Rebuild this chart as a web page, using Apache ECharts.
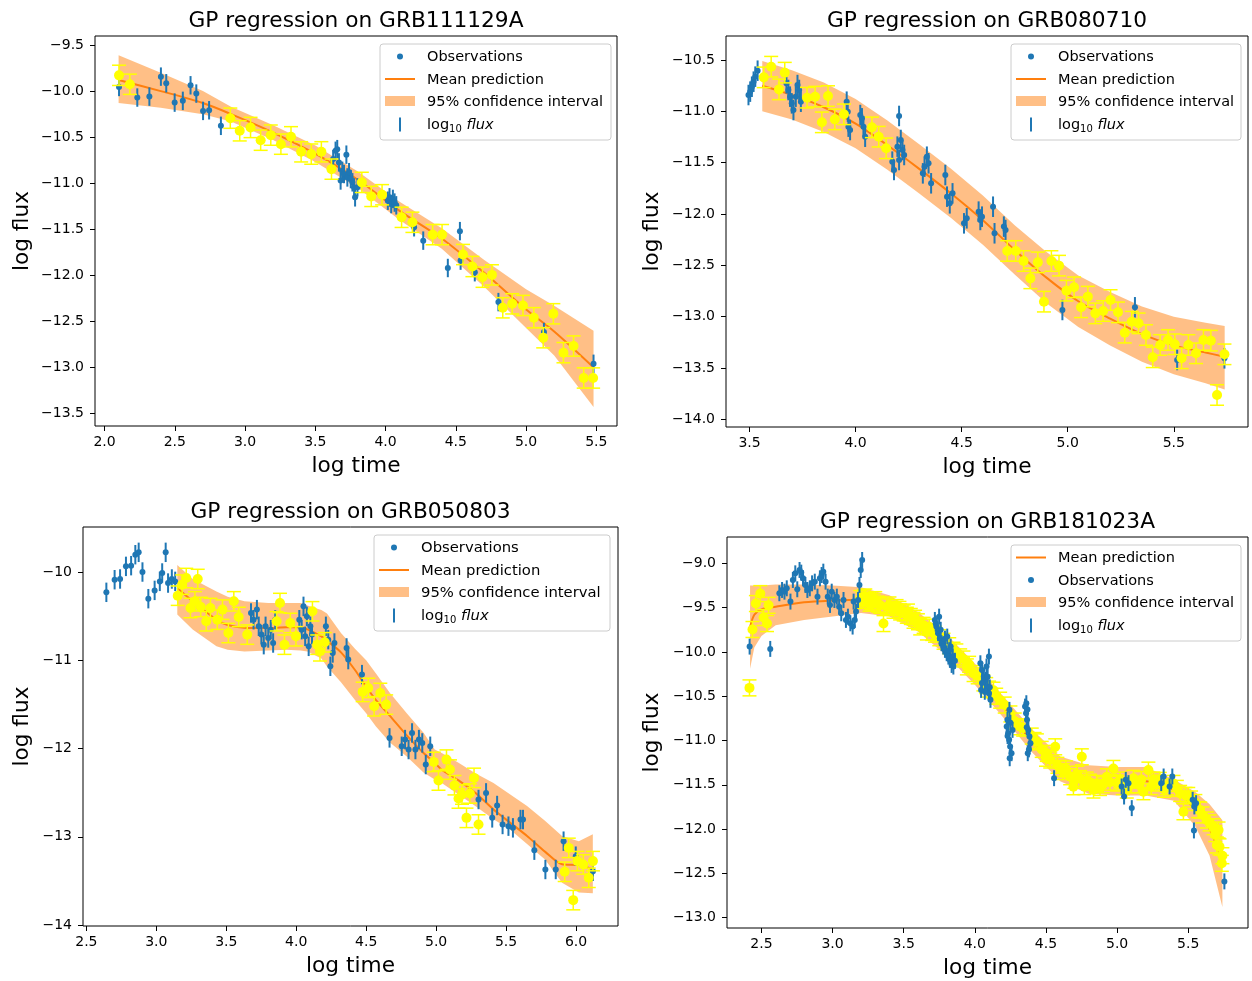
<!DOCTYPE html>
<html>
<head>
<meta charset="utf-8">
<script src="https://cdn.jsdelivr.net/npm/echarts@6/dist/echarts.min.js"></script>
<style>html,body{margin:0;padding:0;background:#fff}#c{width:1252px;height:981px}</style>
</head>
<body>
<div id="c"></div>
<script>
// ---------- Panel 1: GRB111129A ----------
const obs1X = [2.103, 2.233, 2.319, 2.401, 2.439, 2.499, 2.557, 2.612, 2.653, 2.701, 2.744, 2.828, 3.627, 3.644, 3.656, 3.668, 3.68, 3.692, 3.704, 3.721, 3.728, 3.74, 3.752, 3.764, 3.776, 3.783, 3.80, 4.016, 4.028, 4.04, 4.052, 4.064, 4.076, 4.203, 4.268, 4.443, 4.529, 4.534, 4.635, 4.803, 5.127, 5.48];
const obs1Y = [-9.955, -10.07, -10.06, -9.843, -9.915, -10.125, -10.106, -9.937, -10.027, -10.215, -10.208, -10.377, -10.738, -10.648, -10.63, -10.774, -10.97, -10.865, -10.9, -10.69, -10.937, -10.88, -10.955, -10.99, -11.045, -11.153, -11.045, -11.19, -11.153, -11.226, -11.17, -11.21, -11.24, -11.478, -11.623, -11.92, -11.52, -11.84, -11.966, -12.29, -12.615, -12.96];
const rec1X = [2.103, 2.180, 2.895, 2.962, 3.039, 3.111, 3.183, 3.255, 3.327, 3.399, 3.471, 3.543, 3.615, 3.831, 3.898, 3.975, 4.114, 4.191, 4.335, 4.402, 4.551, 4.618, 4.69, 4.757, 4.834, 4.901, 4.978, 5.055, 5.122, 5.194, 5.266, 5.338, 5.41, 5.477];
const rec1Y = [-9.829, -9.926, -10.294, -10.431, -10.395, -10.533, -10.478, -10.576, -10.496, -10.659, -10.684, -10.659, -10.847, -10.991, -11.143, -11.125, -11.37, -11.424, -11.558, -11.558, -11.774, -11.904, -12.02, -11.995, -12.352, -12.309, -12.327, -12.46, -12.677, -12.417, -12.839, -12.767, -13.114, -13.114];
const band1X = [2.10, 2.40, 2.70, 2.90, 3.20, 3.50, 3.80, 4.10, 4.40, 4.70, 5.00, 5.20, 5.48];
const mean1 = [-9.88, -10.00, -10.13, -10.25, -10.45, -10.68, -10.96, -11.30, -11.60, -11.97, -12.37, -12.61, -13.00];
const upper1 = [-9.61, -9.80, -10.00, -10.17, -10.37, -10.59, -10.87, -11.20, -11.49, -11.83, -12.15, -12.33, -12.60];
const lower1 = [-10.13, -10.18, -10.25, -10.33, -10.53, -10.77, -11.05, -11.40, -11.71, -12.12, -12.57, -12.87, -13.43];
const xTicks1 = [2.0, 2.5, 3.0, 3.5, 4.0, 4.5, 5.0, 5.5];
const yTicks1 = [-9.5, -10.0, -10.5, -11.0, -11.5, -12.0, -12.5, -13.0, -13.5];

// ---------- Panel 2: GRB080710 ----------
const obs2X = [3.495, 3.503, 3.511, 3.519, 3.527, 3.538, 3.674, 3.683, 3.691, 3.699, 3.707, 3.718, 3.726, 3.734, 3.742, 3.958, 3.963, 3.966, 3.974, 4.022, 4.03, 4.037, 4.045, 4.205, 4.173, 4.181, 4.197, 4.205, 4.213, 4.221, 4.229, 4.317, 4.325, 4.336, 4.344, 4.356, 4.423, 4.431, 4.444, 4.457, 4.511, 4.524, 4.58, 4.588, 4.596, 4.648, 4.655, 4.699, 4.707, 4.975, 5.317, 5.516, 5.739];
const obs2Y = [-10.841, -10.808, -10.76, -10.711, -10.662, -10.604, -10.727, -10.792, -10.857, -10.922, -10.987, -10.857, -10.744, -10.792, -10.906, -10.906, -11.003, -11.149, -11.182, -11.036, -11.068, -11.149, -11.247, -11.045, -11.49, -11.571, -11.344, -11.474, -11.279, -11.377, -11.425, -11.604, -11.539, -11.442, -11.506, -11.701, -11.62, -11.831, -11.896, -11.799, -12.091, -12.042, -11.977, -12.058, -12.026, -11.929, -12.188, -12.123, -12.156, -12.935, -12.909, -13.422, -13.406];
const rec2X = [3.567, 3.602, 3.666, 3.639, 3.771, 3.809, 3.87, 3.841, 3.902, 3.945, 4.077, 4.109, 4.144, 4.715, 4.755, 4.792, 4.824, 4.859, 4.888, 4.923, 4.959, 4.994, 5.03, 5.063, 5.095, 5.13, 5.167, 5.202, 5.237, 5.269, 5.302, 5.334, 5.369, 5.401, 5.436, 5.473, 5.505, 5.537, 5.569, 5.605, 5.64, 5.675, 5.704, 5.739];
const rec2Y = [-10.669, -10.565, -10.623, -10.786, -10.867, -10.857, -10.851, -11.107, -11.078, -11.029, -11.156, -11.247, -11.36, -12.36, -12.36, -12.458, -12.627, -12.471, -12.854, -12.458, -12.503, -12.747, -12.714, -12.909, -12.805, -12.968, -12.945, -12.838, -12.958, -13.156, -13.049, -13.065, -13.179, -13.396, -13.276, -13.227, -13.269, -13.406, -13.276, -13.357, -13.227, -13.234, -13.763, -13.367];
const band2X = [3.56, 3.70, 3.85, 4.00, 4.15, 4.30, 4.45, 4.60, 4.75, 4.90, 5.05, 5.20, 5.35, 5.50, 5.65, 5.74];
const mean2 = [-10.75, -10.84, -10.96, -11.12, -11.33, -11.56, -11.80, -12.06, -12.35, -12.62, -12.85, -13.02, -13.17, -13.28, -13.35, -13.39];
const upper2 = [-10.51, -10.60, -10.72, -10.88, -11.09, -11.32, -11.56, -11.82, -12.11, -12.37, -12.60, -12.76, -12.90, -13.00, -13.06, -13.09];
const lower2 = [-11.00, -11.08, -11.20, -11.36, -11.57, -11.80, -12.04, -12.30, -12.59, -12.87, -13.10, -13.28, -13.44, -13.56, -13.65, -13.71];
const xTicks2 = [3.5, 4.0, 4.5, 5.0, 5.5];
const yTicks2 = [-10.5, -11.0, -11.5, -12.0, -12.5, -13.0, -13.5, -14.0];

// ---------- Panel 3: GRB050803 ----------
const obs3X = [2.643, 2.702, 2.741, 2.783, 2.82, 2.85, 2.874, 2.901, 2.943, 2.988, 3.025, 3.042, 3.067, 3.084, 3.111, 3.135, 3.677, 3.695, 3.719, 3.732, 3.751, 3.768, 3.781, 3.8, 3.818, 3.835, 3.85, 4.022, 4.039, 4.052, 4.064, 4.076, 4.089, 4.101, 4.113, 4.212, 4.229, 4.244, 4.261, 4.273, 4.36, 4.372, 4.47, 4.667, 4.754, 4.778, 4.803, 4.828, 4.852, 4.877, 4.901, 4.926, 4.958, 5.303, 5.357, 5.401, 5.436, 5.475, 5.517, 5.549, 5.603, 5.621, 5.702, 5.781, 5.855, 5.911, 5.998, 6.121];
const obs3Y = [-10.23, -10.087, -10.079, -9.936, -9.928, -9.804, -9.777, -10.0, -10.302, -10.208, -10.106, -10.011, -9.777, -10.125, -10.079, -10.106, -10.464, -10.54, -10.426, -10.615, -10.709, -10.823, -10.615, -10.747, -10.653, -10.804, -10.54, -10.54, -10.653, -10.389, -10.728, -10.502, -10.842, -10.615, -10.709, -10.615, -10.766, -11.068, -10.917, -10.804, -10.86, -10.992, -11.162, -11.879, -11.974, -11.898, -12.011, -11.823, -12.011, -11.898, -11.936, -12.181, -11.974, -12.577, -12.502, -12.785, -12.645, -12.86, -12.879, -12.898, -12.804, -12.804, -13.151, -13.37, -13.37, -13.049, -13.219, -13.389];
const rec3X = [3.153, 3.185, 3.214, 3.296, 3.244, 3.276, 3.318, 3.357, 3.387, 3.436, 3.473, 3.515, 3.554, 3.589, 3.65, 3.86, 3.884, 3.916, 3.958, 3.998, 4.116, 4.15, 4.17, 4.204, 4.475, 4.515, 4.557, 4.601, 4.643, 4.983, 5.017, 5.074, 5.099, 5.131, 5.16, 5.185, 5.217, 5.241, 5.271, 5.303, 5.919, 5.948, 5.98, 6.01, 6.052, 6.091, 6.121];
const rec3Y = [-10.268, -10.143, -10.068, -10.079, -10.408, -10.332, -10.396, -10.558, -10.408, -10.54, -10.426, -10.691, -10.332, -10.509, -10.709, -10.558, -10.351, -10.823, -10.577, -10.728, -10.445, -10.823, -10.898, -10.796, -11.358, -11.313, -11.521, -11.37, -11.502, -12.151, -12.362, -12.125, -12.238, -12.415, -12.566, -12.521, -12.785, -12.509, -12.332, -12.86, -13.396, -13.125, -13.717, -13.275, -13.313, -13.464, -13.275];
const band3X = [3.15, 3.26, 3.43, 3.51, 3.63, 3.80, 3.93, 4.03, 4.08, 4.18, 4.22, 4.32, 4.42, 4.50, 4.57, 4.67, 4.79, 4.91, 4.99, 5.04, 5.16, 5.28, 5.41, 5.53, 5.65, 5.78, 5.90, 6.02, 6.12];
const mean3 = [-10.18, -10.33, -10.54, -10.60, -10.63, -10.635, -10.625, -10.625, -10.65, -10.73, -10.78, -10.91, -11.11, -11.30, -11.45, -11.63, -11.85, -12.05, -12.16, -12.24, -12.36, -12.50, -12.69, -12.84, -12.99, -13.17, -13.31, -13.32, -13.37];
const upper3 = [-9.92, -10.08, -10.22, -10.28, -10.33, -10.35, -10.35, -10.35, -10.38, -10.43, -10.47, -10.69, -10.87, -11.0, -11.15, -11.37, -11.60, -11.82, -12.01, -12.05, -12.16, -12.28, -12.39, -12.52, -12.65, -12.82, -12.99, -13.05, -12.97];
const lower3 = [-10.48, -10.65, -10.84, -10.88, -10.90, -10.89, -10.88, -10.89, -10.90, -10.98, -11.07, -11.25, -11.45, -11.60, -11.75, -11.93, -12.09, -12.27, -12.35, -12.39, -12.52, -12.65, -12.80, -12.92, -13.08, -13.26, -13.52, -13.63, -13.64];
const xTicks3 = [2.5, 3.0, 3.5, 4.0, 4.5, 5.0, 5.5, 6.0];
const yTicks3 = [-10, -11, -12, -13, -14];

// ---------- Panel 4: GRB181023A ----------
const obs4X = [2.417, 2.562, 2.626, 2.645, 2.662, 2.678, 2.704, 2.721, 2.738, 2.752, 2.768, 2.78, 2.792, 2.809, 2.823, 2.84, 2.856, 2.875, 2.894, 2.911, 2.923, 2.935, 2.951, 2.966, 2.982, 2.994, 3.013, 3.03, 3.046, 3.061, 3.077, 3.094, 3.108, 3.125, 3.141, 3.148, 3.156, 3.165, 3.179, 3.189, 3.198, 3.208,
  3.719, 3.73, 3.742, 3.749, 3.754, 3.766, 3.778, 3.79, 3.802, 3.806, 3.814, 3.825, 3.83, 3.837, 3.849,
  3.725, 3.76, 3.79, 3.82, 3.845, 3.86,
  4.039, 4.044, 4.051, 4.063, 4.075, 4.082, 4.087, 4.099, 4.099, 4.11,
  4.05, 4.07, 4.09, 4.105,
  4.224, 4.229, 4.234, 4.241, 4.243, 4.248, 4.258, 4.265,
  4.23, 4.25, 4.245,
  4.353, 4.36, 4.362, 4.367, 4.372, 4.376, 4.384, 4.391,
  4.365, 4.38, 4.37,
  4.557, 5.032, 5.049, 5.061, 5.08, 5.103, 5.31, 5.327, 5.369, 5.388, 5.531, 5.54, 5.543, 5.555, 5.754];
const obs4Y = [-9.94, -9.966, -9.338, -9.301, -9.32, -9.282, -9.432, -9.188, -9.113, -9.293, -9.075, -9.105, -9.169, -9.244, -9.301, -9.282, -9.226, -9.207, -9.376, -9.169, -9.132, -9.094, -9.207, -9.376, -9.47, -9.32, -9.414, -9.376, -9.489, -9.564, -9.414, -9.639, -9.602, -9.677, -9.714, -9.432, -9.639, -9.545, -9.414, -9.244, -9.075, -8.962,
  -9.639, -9.714, -9.789, -9.602, -9.846, -9.902, -9.94, -9.977, -10.015, -9.827, -10.053, -10.09, -9.94, -10.147, -10.165,
  -9.68, -9.75, -9.85, -9.98, -10.05, -10.1,
  -10.128, -10.429, -10.203, -10.278, -10.316, -10.165, -10.391, -10.466, -10.053, -10.541,
  -10.35, -10.45, -10.28, -10.4,
  -10.842, -10.767, -10.917, -10.992, -10.654, -11.068, -11.143, -10.88,
  -10.95, -10.8, -11.2,
  -10.617, -10.692, -10.579, -10.767, -11.143, -10.88, -10.955, -11.03,
  -10.85, -11.1, -10.65,
  -11.425, -11.519, -11.632, -11.444, -11.481, -11.763, -11.481, -11.406, -11.519, -11.406, -11.669, -12.015, -11.744, -11.707, -12.59];
const rec4X = [2.416, 2.437, 2.461, 2.492, 2.515, 2.539, 2.55, 3.194, 3.22, 3.241, 3.26, 3.288, 3.335, 3.358, 3.382, 3.428, 3.45, 3.475, 3.522, 3.55, 3.569, 3.616, 3.663, 3.72, 3.78, 3.85, 3.897, 3.944, 3.991, 4.06, 4.131, 4.178, 4.25, 4.319, 4.40, 4.436, 4.5, 4.506, 4.565, 4.6, 4.67, 4.693, 4.72, 4.752, 4.787, 4.834, 4.858, 4.9, 4.928, 4.974, 5.0, 5.021, 5.068, 5.115, 5.15, 5.185, 5.22, 5.255, 5.3, 5.35, 5.396, 5.443, 5.466, 5.5, 5.55, 5.584, 5.631, 5.678, 5.701, 5.713, 5.736,
  3.21, 3.23, 3.27, 3.30, 3.32, 3.40, 3.47, 3.50, 3.53, 3.58, 3.60, 3.64, 3.68, 3.70, 3.75, 3.82, 3.87, 3.92, 3.96, 4.02, 4.08, 4.10, 4.15, 4.21, 4.28, 4.34, 4.42, 4.47, 4.53, 4.58, 4.62, 4.64, 4.70, 4.74, 4.77, 4.81, 4.88, 4.95, 5.04, 5.10, 5.17, 5.24, 5.28, 5.33, 5.42, 5.48, 5.52, 5.57, 5.60, 5.65, 5.69, 5.72, 5.74];
const rec4Y = [-10.406, -9.747, -9.454, -9.342, -9.612, -9.68, -9.474, -9.398, -9.39, -9.417, -9.45, -9.436, -9.474, -9.68, -9.492, -9.53, -9.5, -9.549, -9.586, -9.6, -9.643, -9.718, -9.775, -9.80, -9.88, -9.981, -10.056, -10.169, -10.244, -10.35, -10.432, -10.545, -10.7, -10.845, -10.95, -11.015, -11.2, -11.145, -11.071, -11.315, -11.409, -11.522, -11.38, -11.184, -11.446, -11.559, -11.484, -11.5, -11.409, -11.315, -11.48, -11.446, -11.559, -11.427, -11.5, -11.578, -11.334, -11.446, -11.45, -11.522, -11.484, -11.597, -11.804, -11.62, -11.7, -11.785, -11.897, -11.973, -12.179, -12.01, -12.386,
  -9.42, -9.38, -9.43, -9.41, -9.46, -9.47, -9.52, -9.56, -9.55, -9.62, -9.66, -9.70, -9.72, -9.78, -9.84, -9.93, -10.0, -10.08, -10.14, -10.27, -10.38, -10.42, -10.50, -10.6, -10.78, -10.86, -11.0, -11.1, -11.22, -11.28, -11.35, -11.32, -11.45, -11.43, -11.52, -11.47, -11.53, -11.47, -11.52, -11.50, -11.44, -11.52, -11.48, -11.55, -11.54, -11.62, -11.66, -11.78, -11.84, -11.93, -12.05, -12.2, -12.3];
const band4X = [2.42, 2.45, 2.5, 2.6, 2.8, 3.0, 3.2, 3.4, 3.6, 3.8, 4.0, 4.2, 4.4, 4.6, 4.8, 5.0, 5.2, 5.4, 5.55, 5.65, 5.74];
const mean4 = [-9.72, -9.58, -9.52, -9.49, -9.44, -9.42, -9.41, -9.48, -9.66, -9.92, -10.25, -10.62, -11.0, -11.32, -11.44, -11.46, -11.46, -11.56, -11.78, -12.0, -12.38];
const upper4 = [-9.25, -9.25, -9.25, -9.24, -9.24, -9.25, -9.27, -9.36, -9.55, -9.80, -10.13, -10.50, -10.87, -11.18, -11.28, -11.30, -11.30, -11.44, -11.58, -11.72, -11.90];
const lower4 = [-10.19, -9.95, -9.82, -9.70, -9.64, -9.60, -9.56, -9.60, -9.77, -10.04, -10.37, -10.74, -11.13, -11.46, -11.60, -11.62, -11.62, -11.68, -11.97, -12.30, -12.88];
const xTicks4 = [2.5, 3.0, 3.5, 4.0, 4.5, 5.0, 5.5];
const yTicks4 = [-9.0, -9.5, -10.0, -10.5, -11.0, -11.5, -12.0, -12.5, -13.0];

// error-bar half lengths (log flux units), estimated per panel
const obsErr = [0.10, 0.10, 0.11, 0.09];
const recErr = [0.11, 0.10, 0.11, 0.09];

const titles = ['GP regression on GRB111129A', 'GP regression on GRB080710', 'GP regression on GRB050803', 'GP regression on GRB181023A'];

// ---------- layout (pixels) ----------
const FONT = 'DejaVu Sans';
const grids = [
  { left: 95, top: 36, width: 522, height: 390 },
  { left: 726, top: 36, width: 522, height: 391 },
  { left: 83, top: 527, width: 535, height: 399 },
  { left: 727, top: 537, width: 521, height: 391 }
];
const xRange = [[1.932, 5.647], [3.389, 5.85], [2.476, 6.30], [2.258, 5.92]];
const yRange = [[-13.635, -9.402], [-14.075, -10.266], [-14.01, -9.49], [-13.116, -8.703]];
const xTicks = [xTicks1, xTicks2, xTicks3, xTicks4];
const yTicks = [yTicks1, yTicks2, yTicks3, yTicks4];
const yDec = [1, 1, 0, 1];
// panel 4 draws observations above the yellow points
const obsOnTop = [false, false, false, true];

const BLUE = '#1f77b4', ORANGE = '#ff7f0e', BAND = 'rgba(255,127,14,0.5)', YEL = '#ffff00';

function fmt(v, d) { return (v < 0 ? '\u2212' : '') + Math.abs(v).toFixed(d); }

function xAxisCfg(i) {
  return {
    type: 'value', gridIndex: i, min: xRange[i][0], max: xRange[i][1],
    splitLine: { show: false }, axisLine: { show: false },
    axisTick: { show: true, customValues: xTicks[i], length: 5, lineStyle: { color: '#000', width: 1 } },
    axisLabel: { show: true, customValues: xTicks[i], margin: 9, color: '#000', fontSize: 14, fontFamily: FONT,
      formatter: v => fmt(v, 1) }
  };
}
function yAxisCfg(i) {
  return {
    type: 'value', gridIndex: i, min: yRange[i][0], max: yRange[i][1],
    splitLine: { show: false }, axisLine: { show: false },
    axisTick: { show: true, customValues: yTicks[i], length: 5, lineStyle: { color: '#000', width: 1 } },
    axisLabel: { show: true, customValues: yTicks[i], margin: 11, color: '#000', fontSize: 14, fontFamily: FONT,
      formatter: v => fmt(v, yDec[i]) }
  };
}

function bandSeries(i, xs, up, lo) {
  return {
    type: 'custom', xAxisIndex: i, yAxisIndex: i, z: 1, silent: true,
    data: xs.map((x, k) => [x, up[k], lo[k]]),
    renderItem: function (params, api) {
      if (params.dataIndex !== 0) return null;
      const pts = [];
      for (let k = 0; k < xs.length; k++) pts.push(api.coord([xs[k], up[k]]));
      for (let k = xs.length - 1; k >= 0; k--) pts.push(api.coord([xs[k], lo[k]]));
      return { type: 'polygon', shape: { points: pts }, style: { fill: BAND } };
    }
  };
}
function meanSeries(i, xs, ys) {
  return {
    type: 'line', xAxisIndex: i, yAxisIndex: i, z: 2, silent: true, smooth: 0.3,
    showSymbol: false, symbol: 'none',
    lineStyle: { color: ORANGE, width: 2 },
    data: xs.map((x, k) => [x, ys[k]])
  };
}
function errSeries(i, xs, ys, err, color, width, cap, z) {
  return {
    type: 'custom', xAxisIndex: i, yAxisIndex: i, z: z, silent: true,
    data: xs.map((x, k) => [x, ys[k]]),
    renderItem: function (params, api) {
      const x = api.value(0), y = api.value(1);
      const a = api.coord([x, y + err]), b = api.coord([x, y - err]);
      const ch = [{ type: 'line', shape: { x1: a[0], y1: a[1], x2: b[0], y2: b[1] }, style: { stroke: color, lineWidth: width } }];
      if (cap) {
        ch.push({ type: 'line', shape: { x1: a[0] - cap, y1: a[1], x2: a[0] + cap, y2: a[1] }, style: { stroke: color, lineWidth: width } });
        ch.push({ type: 'line', shape: { x1: b[0] - cap, y1: b[1], x2: b[0] + cap, y2: b[1] }, style: { stroke: color, lineWidth: width } });
      }
      return { type: 'group', children: ch };
    }
  };
}
function dotSeries(i, xs, ys, color, size, z) {
  return {
    type: 'scatter', xAxisIndex: i, yAxisIndex: i, z: z, silent: true,
    symbol: 'circle', symbolSize: size,
    itemStyle: { color: color, opacity: 1, borderWidth: 0 },
    data: xs.map((x, k) => [x, ys[k]])
  };
}

const panels = [
  [obs1X, obs1Y, rec1X, rec1Y, band1X, mean1, upper1, lower1],
  [obs2X, obs2Y, rec2X, rec2Y, band2X, mean2, upper2, lower2],
  [obs3X, obs3Y, rec3X, rec3Y, band3X, mean3, upper3, lower3],
  [obs4X, obs4Y, rec4X, rec4Y, band4X, mean4, upper4, lower4]
];

const series = [];
panels.forEach((p, i) => {
  const zo = obsOnTop[i] ? 5 : 3, zr = obsOnTop[i] ? 3 : 5;
  series.push(bandSeries(i, p[4], p[6], p[7]));
  series.push(meanSeries(i, p[4], p[5]));
  series.push(errSeries(i, p[0], p[1], obsErr[i], BLUE, 2, 0, zo));
  series.push(dotSeries(i, p[0], p[1], BLUE, 6, zo + 1));
  series.push(errSeries(i, p[2], p[3], recErr[i], YEL, 1.5, 7, zr));
  series.push(dotSeries(i, p[2], p[3], YEL, 10, zr + 1));
});

// ---------- text & legends ----------
const graphic = [];
function txt(x, y, s, size, rot) {
  graphic.push({ type: 'text', x: x, y: y, rotation: rot || 0, z: 50, silent: true,
    style: { text: s, fill: '#000', fontSize: size, fontFamily: FONT,
      align: 'center', verticalAlign: 'middle' } });
}
grids.forEach((g, i) => {
  const cx = g.left + g.width / 2;
  txt(cx, g.top - 15, titles[i], 21.7, 0);
  txt(cx, g.top + g.height + 40, 'log time', 21.7, 0);
  txt(i % 2 === 0 ? 22 : 652, g.top + g.height / 2, 'log flux', 21.7, Math.PI / 2);
});

function legend(left, top, width, order, fs) {
  const rows = [12.5, 35, 57, 80.5];
  graphic.push({ type: 'rect', z: 100, silent: true, shape: { x: left, y: top, width: width, height: 96, r: 3 },
    style: { fill: 'rgba(255,255,255,0.8)', stroke: '#cccccc', lineWidth: 1 } });
  order.forEach((k, r) => {
    const y = top + rows[r];
    const tx = left + 47;
    if (k === 'obs') {
      graphic.push({ type: 'circle', z: 101, silent: true, shape: { cx: left + 20, cy: y, r: 3 }, style: { fill: BLUE } });
      graphic.push({ type: 'text', z: 101, silent: true, x: tx, y: y + 1, style: { text: 'Observations', fill: '#000', fontSize: fs, fontFamily: FONT, verticalAlign: 'middle', align: 'left' } });
    } else if (k === 'mean') {
      graphic.push({ type: 'line', z: 101, silent: true, shape: { x1: left + 5, y1: y, x2: left + 35, y2: y }, style: { stroke: ORANGE, lineWidth: 2 } });
      graphic.push({ type: 'text', z: 101, silent: true, x: tx, y: y + 1, style: { text: 'Mean prediction', fill: '#000', fontSize: fs, fontFamily: FONT, verticalAlign: 'middle', align: 'left' } });
    } else if (k === 'ci') {
      graphic.push({ type: 'rect', z: 101, silent: true, shape: { x: left + 5, y: y - 5, width: 30, height: 10 }, style: { fill: BAND } });
      graphic.push({ type: 'text', z: 101, silent: true, x: tx, y: y + 1, style: { text: '95% confidence interval', fill: '#000', fontSize: fs, fontFamily: FONT, verticalAlign: 'middle', align: 'left' } });
    } else {
      graphic.push({ type: 'line', z: 101, silent: true, shape: { x1: left + 20, y1: y - 7, x2: left + 20, y2: y + 7 }, style: { stroke: BLUE, lineWidth: 2 } });
      graphic.push({ type: 'text', z: 101, silent: true, x: tx, y: y + 1, style: {
        text: '{a|log}{b|10} {c|flux}', fill: '#000', fontSize: fs, fontFamily: FONT, verticalAlign: 'middle', align: 'left',
        rich: {
          a: { fontSize: fs, fontFamily: FONT, fill: '#000' },
          b: { fontSize: 10, fontFamily: FONT, fill: '#000', padding: [8, 0, 0, 0] },
          c: { fontSize: fs, fontFamily: FONT, fontStyle: 'italic', fill: '#000' }
        } } });
    }
  });
}
legend(380, 44, 231, ['obs', 'mean', 'ci', 'flux'], 14.5);
legend(1011, 44, 230, ['obs', 'mean', 'ci', 'flux'], 14.5);
legend(374, 535, 236, ['obs', 'mean', 'ci', 'flux'], 14.8);
legend(1011, 545, 230, ['mean', 'obs', 'ci', 'flux'], 14.5);

const chart = echarts.init(document.getElementById('c'), null, { renderer: 'canvas' });
chart.setOption({
  animation: false,
  backgroundColor: '#ffffff',
  grid: grids.map(g => Object.assign({ show: true, borderColor: '#000', borderWidth: 1, backgroundColor: 'transparent', containLabel: false, outerBoundsMode: 'none' }, g)),
  xAxis: [0, 1, 2, 3].map(xAxisCfg),
  yAxis: [0, 1, 2, 3].map(yAxisCfg),
  series: series,
  graphic: graphic
});
</script>
</body>
</html>
